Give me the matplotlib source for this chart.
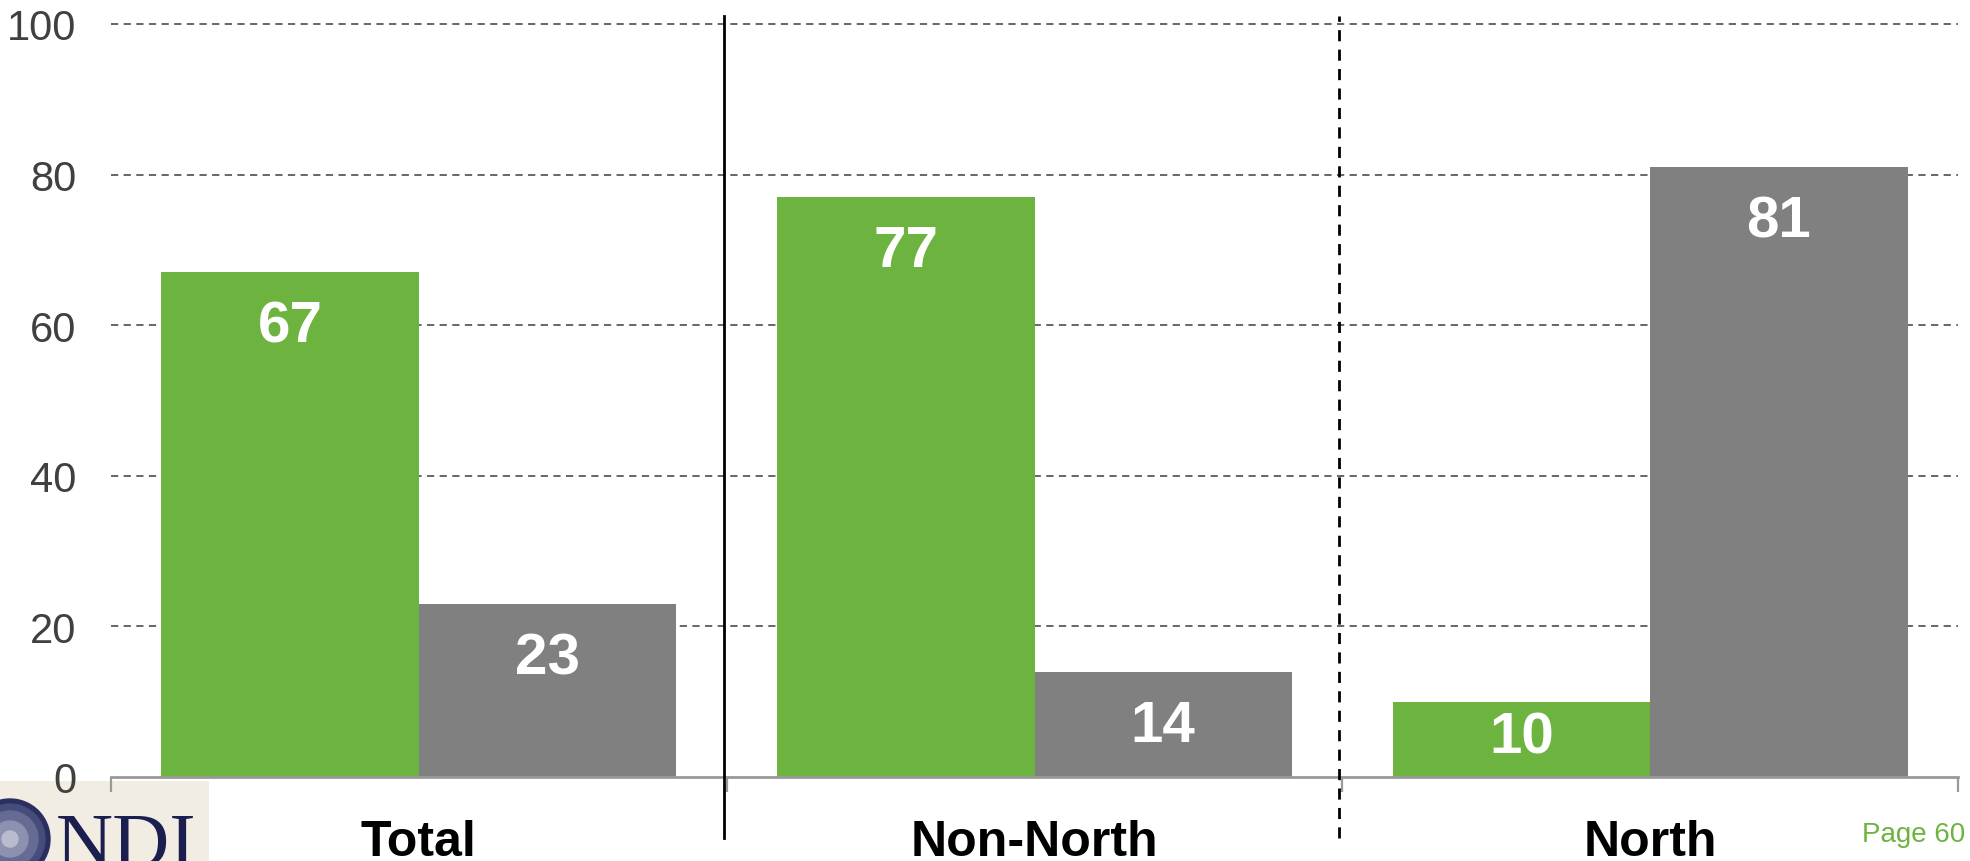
import matplotlib.pyplot as plt
import matplotlib.patches as mpatches
import numpy as np

plt.rcParams['font.family'] = ['Liberation Sans', 'DejaVu Sans']

# data
groups = ['Total', 'Non-North', 'North']
green_vals = [67, 77, 10]
gray_vals = [23, 14, 81]
yticks = [0, 20, 40, 60, 80, 100]

green = '#6DB33F'
grey = '#808080'

fig = plt.figure(figsize=(19.7, 8.62), dpi=100)

# logo (drawn underneath the chart axes)
lax = fig.add_axes([0, 0, 209 / 1970, 80 / 862])
lax.set_zorder(1)
lax.set_xlim(0, 209)
lax.set_ylim(0, 80)
lax.set_facecolor('#F2EDE2')
for sp in lax.spines.values():
    sp.set_visible(False)
lax.set_xticks([])
lax.set_yticks([])
for r, c in ((40, '#2a2f60'), (35, '#464c7c'), (28, '#666b94'), (18, '#8d91b0'), (8, '#b9bccf')):
    lax.add_patch(mpatches.Circle((10, 22), r, color=c, zorder=2))
lax.text(56, -5, 'NDI', family='Liberation Serif', fontsize=57, color='#1b1f4f',
         ha='left', va='baseline', zorder=3)

ax = fig.add_axes([111 / 1970, 84 / 862, 1847 / 1970, 753 / 862])
ax.set_zorder(2)
ax.patch.set_alpha(0)

x = np.arange(len(groups))
w = 0.418
ax.bar(x - w / 2, green_vals, w, color=green, zorder=3)
ax.bar(x + w / 2, gray_vals, w, color=grey, zorder=3)

# value labels, white bold inside top of bars
for xi, g, s in zip(x, green_vals, gray_vals):
    for off, v in ((-w / 2, g), (w / 2, s)):
        ax.text(xi + off, max(v - 9.2, 3.3), str(v), color='white',
                fontsize=42, fontweight='bold', ha='center', va='baseline', zorder=4)

ax.set_xlim(-0.5, 2.5)
ax.set_ylim(0, 100)
ax.set_yticks(yticks)
ax.set_yticklabels([str(t) for t in yticks], fontsize=30, color='#404040')
ax.tick_params(axis='y', length=0, pad=25)

# group boundary ticks on x axis
ax.set_xticks([-0.5, 0.5, 1.5, 2.5])
ax.set_xticklabels([])
ax.tick_params(axis='x', length=11, width=1.6, color='#999999', direction='out')

for t in yticks[1:]:
    ax.axhline(t, color='#5a5a5a', lw=1.3, ls=(0, (4, 3)), zorder=1, clip_on=False)

for side in ['left', 'right', 'top']:
    ax.spines[side].set_visible(False)
ax.spines['bottom'].set_color('#999999')
ax.spines['bottom'].set_linewidth(2)
ax.spines['bottom'].set_zorder(5)

# category labels
for xi, name in zip(x, groups):
    ax.text(xi, -10.3, name, fontsize=36, fontweight='bold', color='black',
            ha='center', va='baseline', clip_on=False)

# separator lines
ax.plot([0.496, 0.496], [-8.1, 101.1], color='black', lw=2, clip_on=False, zorder=6)
ax.plot([1.494, 1.494], [-8.1, 101.1], color='black', lw=2, ls=(0, (4, 3)),
        clip_on=False, zorder=6)

# page number
fig.text(1965 / 1970, (862 - 842) / 862, 'Page 60', color=green, fontsize=20,
         ha='right', va='baseline')

fig.savefig('out.png', dpi=100)
